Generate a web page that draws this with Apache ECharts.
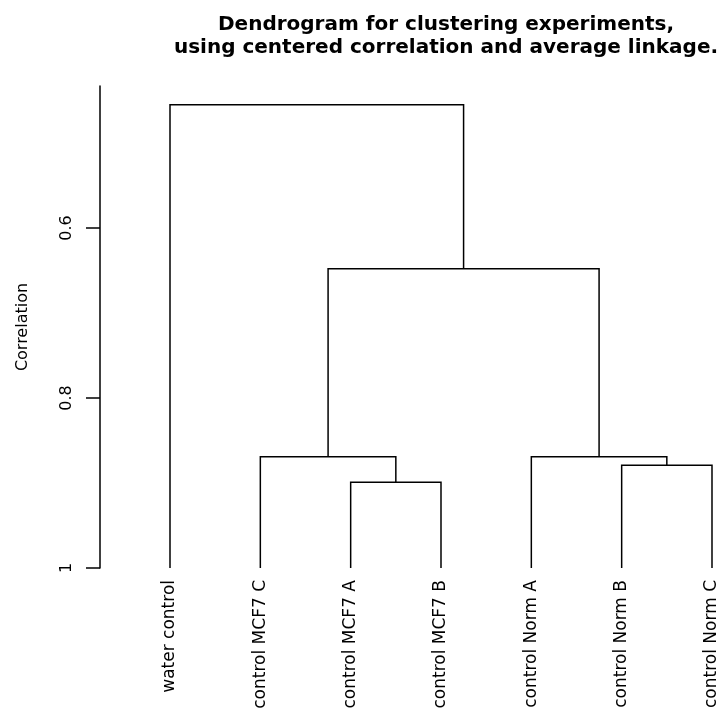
<!DOCTYPE html>
<html>
<head>
<meta charset="utf-8">
<script src="https://cdn.jsdelivr.net/npm/echarts@6/dist/echarts.min.js"></script>
<style>html,body{margin:0;padding:0;background:#fff;}#c{width:725px;height:718px;}</style>
</head>
<body>
<div id="c"></div>
<script>
// Leaves in plotted order (positions 1..7)
const leaves = ['water control', 'control MCF7 C', 'control MCF7 A', 'control MCF7 B', 'control Norm A', 'control Norm B', 'control Norm C'];
// Merge steps (R hclust style): negative = leaf index (1-based), positive = earlier merge
const mergeLeft  = [-3, -6, -2, -5, 3, -1];
const mergeRight = [-4, -7, 1, 2, 4, 5];
const mergeHeight = [0.899, 0.879, 0.869, 0.869, 0.648, 0.455];
const leafHeight = 1;
const yTicks = [0.6, 0.8, 1];
const titleLines = ['Dendrogram for clustering experiments,', 'using centered correlation and average linkage.'];
const yName = 'Correlation';

// build node positions from the merge table
const nodeX = [], nodeY = [];
function pos(ref) {
  if (ref < 0) return [-ref, leafHeight];
  return [nodeX[ref - 1], nodeY[ref - 1]];
}
const segs = [];
for (let i = 0; i < mergeHeight.length; i++) {
  const L = pos(mergeLeft[i]), R = pos(mergeRight[i]);
  const h = mergeHeight[i];
  nodeX.push((L[0] + R[0]) / 2);
  nodeY.push(h);
  segs.push({coords: [[L[0], L[1]], [L[0], h], [R[0], h], [R[0], R[1]]]});
}

const xMin = 1 - 70 / 90.333;
const xMax = xMin + 625 / 90.333;

const chart = echarts.init(document.getElementById('c'), null, {renderer: 'canvas'});
chart.setOption({
  backgroundColor: '#ffffff',
  animation: false,
  title: {
    text: titleLines.join('\n'),
    left: 441, top: 8, textAlign: 'center',
    textStyle: {fontFamily: 'DejaVu Sans', fontWeight: 'bold', fontSize: 20, color: '#000', lineHeight: 23}
  },
  grid: {left: 100, right: 0, top: 86, bottom: 150},
  xAxis: {
    type: 'value', min: xMin, max: xMax,
    splitLine: {show: false}, axisLine: {show: false}, axisTick: {show: false},
    axisLabel: {
      customValues: leaves.map((_, i) => i + 1),
      formatter: v => leaves[Math.round(v) - 1] || '',
      rotate: 90, margin: 12, color: '#000', fontFamily: 'DejaVu Sans', fontSize: 17
    }
  },
  yAxis: {
    type: 'value', inverse: true, min: 0.433, max: 1,
    name: yName, nameLocation: 'middle', nameRotate: 90, nameGap: 69,
    nameTextStyle: {color: '#000', fontFamily: 'DejaVu Sans', fontSize: 16},
    splitLine: {show: false},
    axisLine: {show: true, lineStyle: {color: '#000', width: 1.5}},
    axisTick: {show: true, customValues: yTicks, length: 14, lineStyle: {color: '#000', width: 1.5}},
    axisLabel: {customValues: yTicks, formatter: v => String(v), rotate: 90, margin: 25, color: '#000', fontFamily: 'DejaVu Sans', fontSize: 16}
  },
  series: [{
    type: 'lines', coordinateSystem: 'cartesian2d', polyline: true,
    lineStyle: {color: '#000', width: 1.5, opacity: 1},
    data: segs
  }]
});
</script>
</body>
</html>
